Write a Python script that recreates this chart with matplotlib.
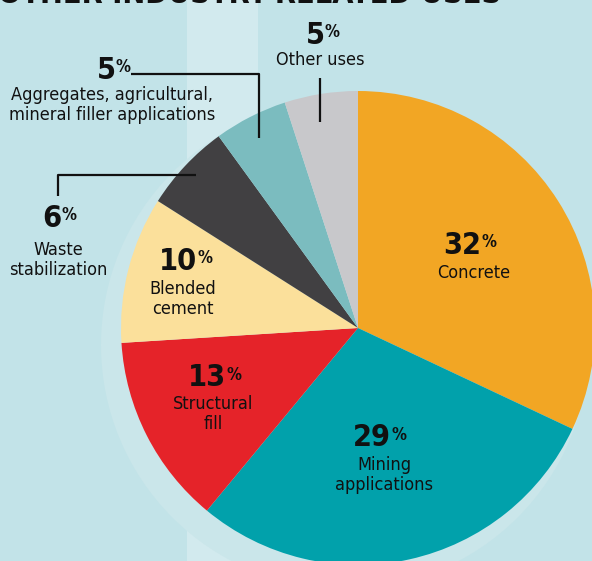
import matplotlib
matplotlib.use("Agg")
import matplotlib.pyplot as plt
from matplotlib.patches import Rectangle, Circle
from matplotlib import font_manager

categories = ["Concrete", "Mining\napplications", "Structural\nfill", "Blended\ncement",
              "Waste\nstabilization", "Aggregates, agricultural,\nmineral filler applications",
              "Other uses"]
values = [32, 29, 13, 10, 6, 5, 5]
colors = ["#f2a624", "#01a1ab", "#e52329", "#fbe09b", "#414042", "#7bbcbf", "#c8c8cb"]

W, H = 592, 561
names = {f.name for f in font_manager.fontManager.ttflist}
FAM = "Liberation Sans Narrow" if "Liberation Sans Narrow" in names else "DejaVu Sans"
ST = "condensed"

fig = plt.figure(figsize=(W / 100, H / 100), dpi=100)
fig.patch.set_facecolor("#c2e3e8")
ax = fig.add_axes([0, 0, 1, 1])

def Y(py):
    return H - py

# background decorations
ax.add_patch(Rectangle((187, Y(561)), 71, 561, color="#d2eaee", zorder=0, lw=0))
ax.add_patch(Circle((345, Y(345)), 244, color="#cae6ea", zorder=0.5, lw=0))

cx, cy, r = 358, 328, 237
ax.pie(values, colors=colors, startangle=90, counterclock=False,
       center=(cx, Y(cy)), radius=r, frame=True,
       wedgeprops=dict(linewidth=0))
ax.set_xlim(0, W)
ax.set_ylim(0, H)
ax.axis("off")
ax.set_aspect("equal")

# title (cropped at top)
ax.text(250, Y(2.5), "OTHER INDUSTRY-RELATED USES", fontsize=22, fontweight="bold",
        family=FAM, stretch=ST, ha="center", va="baseline", color="#111111")

def pct(x, y, val):
    t = ax.text(x, Y(y), str(val), fontsize=22, fontweight="bold", family=FAM, stretch=ST,
                ha="center", va="center", color="#111111", zorder=5)
    ax.annotate("%", xy=(1.0, 0.93), xycoords=t, fontsize=12, fontweight="bold",
                family=FAM, stretch=ST, ha="left", va="top", color="#111111", zorder=5)

def lab(x, y, s):
    ax.text(x, Y(y), s, fontsize=13, family=FAM, stretch=ST, ha="center", va="top",
            color="#111111", linespacing=1.15, zorder=5)

# label positions (pixel coordinates)
pct(462, 245, values[0]); lab(474, 264, "Concrete")
pct(372, 438, values[1]); lab(384, 456, "Mining\napplications")
pct(207, 378, values[2]); lab(213, 395, "Structural\nfill")
pct(178, 261, values[3]); lab(183, 280, "Blended\ncement")
pct(52, 218, values[4]); lab(58, 241, "Waste\nstabilization")
pct(106, 70, values[5]); lab(112, 86, "Aggregates, agricultural,\nmineral filler applications")
pct(315, 35, values[6]); lab(320, 51, "Other uses")

# leader lines
lk = dict(color="#111111", lw=1.6, solid_capstyle="butt", zorder=5)
ax.plot([131, 259, 259], [Y(74), Y(74), Y(138)], **lk)
ax.plot([58, 58, 196], [Y(196), Y(175), Y(175)], **lk)
ax.plot([320, 320], [Y(78), Y(122)], **lk)

fig.savefig("out.png", dpi=100, facecolor=fig.get_facecolor())
